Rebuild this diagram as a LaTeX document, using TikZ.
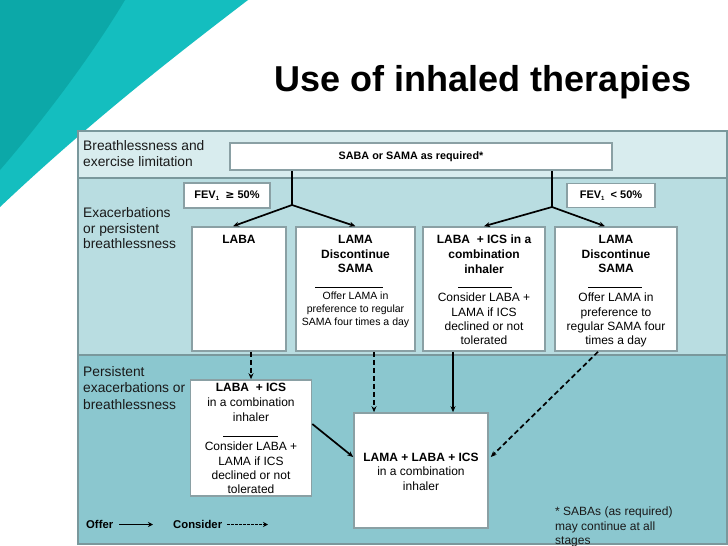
\documentclass[tikz,border=0pt]{standalone}
\usepackage{fontspec}
\setmainfont{Liberation Sans}
\usetikzlibrary{arrows.meta}
\definecolor{tealA}{RGB}{20,190,191}
\definecolor{tealB}{RGB}{12,168,168}
\definecolor{bandA}{RGB}{216,236,238}
\definecolor{bandB}{RGB}{185,221,225}
\definecolor{bandC}{RGB}{139,199,207}
\definecolor{bord}{RGB}{122,152,156}
\definecolor{boxb}{RGB}{138,160,164}
\definecolor{ink}{RGB}{25,25,25}
\tikzset{
  band/.style={draw=bord, line width=1.8pt},
  box/.style={draw=boxb, fill=white, line width=1.6pt, inner sep=0pt},
  lbl/.style={anchor=north west, align=left, inner sep=0pt, text=ink, font=\fontsize{13.8}{16.6}\selectfont},
  hd/.style={anchor=north, align=center, inner sep=0pt, font=\bfseries\fontsize{12}{14.7}\selectfont},
  bd/.style={anchor=north, align=center, inner sep=0pt, font=\fontsize{12}{14.3}\selectfont},
  sm/.style={anchor=north, align=center, inner sep=0pt, font=\fontsize{10.5}{12.8}\selectfont},
  rl/.style={line width=0.8pt},
  offer/.style={draw, line width=1.7pt, -{Stealth[length=6pt,width=5pt]}},
  consider/.style={offer, dash pattern=on 5pt off 3pt},
}
\newcommand{\fevsub}{{\fontsize{6}{6}\selectfont\raisebox{-1.5pt}{1}}}
\begin{document}
\begin{tikzpicture}[x=1pt,y=-1pt]
\useasboundingbox (0,0) rectangle (728,546);
\fill[white] (0,0) rectangle (728,546);
% teal corner
\fill[tealA] (0,0) -- (248,0) .. controls (180,52) and (92,120) .. (0,207) -- cycle;
\fill[tealB] (0,0) -- (125,0) .. controls (92,55) and (45,118) .. (0,170) -- cycle;
% title
\node[anchor=base, inner sep=0pt, font=\bfseries\fontsize{36}{40}\selectfont] (title) at (483,91) {Use of inhaled therapies};
% bands
\draw[band, fill=bandA] (78,131) rectangle (727,178);
\draw[band, fill=bandB] (78,178) rectangle (727,355);
\draw[band, fill=bandC] (78,355) rectangle (727,544);
% band labels
\node[lbl] (l1) at (83,140) {Breathlessness and\\exercise limitation};
\node[lbl, font=\fontsize{13.8}{15.8}\selectfont] (l2) at (83,207) {Exacerbations\\or persistent\\breathlessness};
\node[lbl] (l3) at (83,366) {Persistent\\exacerbations or\\breathlessness};
% boxes
\node[box, minimum width=382pt, minimum height=27pt, font=\bfseries\fontsize{10.8}{13}\selectfont] (saba) at (421,156.5) {SABA or SAMA as required*\hspace*{20pt}};
\node[box, minimum width=86pt, minimum height=25pt, font=\bfseries\fontsize{11}{13}\selectfont] (fevL) at (227,195.5) {FEV\fevsub\ \ {\fontspec{DejaVu Sans}\fontsize{11}{12}\selectfont\bfseries ≥} 50\%};
\node[box, minimum width=88pt, minimum height=24pt, font=\bfseries\fontsize{11}{13}\selectfont] (fevR) at (611,195.5) {FEV\fevsub\ \ < 50\%};
\node[box, minimum width=94pt, minimum height=124pt] (laba) at (239,289) {};
\node[box, minimum width=119pt, minimum height=124pt] (lamaL) at (355.5,289) {};
\node[box, minimum width=122pt, minimum height=124pt] (labaics) at (484,289) {};
\node[box, minimum width=122pt, minimum height=124pt] (lamaR) at (616,289) {};
\node[box, minimum width=121pt, minimum height=116pt] (labaicsB) at (251,438) {};
\node[box, minimum width=134pt, minimum height=115pt] (triple) at (421,470.5) {};
% box texts row 2
\node[hd] (labaT) at (239,235) {LABA};
\node[hd] (lamaLT) at (355.5,235) {LAMA\\Discontinue\\SAMA};
\draw[rl] (315,287) -- (383,287);
\node[sm] (lamaLS) at (355.5,292) {Offer LAMA in\\preference to regular\\SAMA four times a day};
\node[hd] (labaicsT) at (484,235) {LABA\ \ + ICS in a\\combination\\inhaler};
\draw[rl] (458,287) -- (512,287);
\node[bd] (labaicsS) at (484,293) {Consider LABA +\\LAMA if ICS\\declined or not\\tolerated};
\node[hd] (lamaRT) at (616,235) {LAMA\\Discontinue\\SAMA};
\draw[rl] (588,287) -- (642,287);
\node[bd] (lamaRS) at (616,293) {Offer LAMA in\\preference to\\regular SAMA four\\times a day};
% box texts row 3
\node[hd] (labaicsBT) at (251,383) {LABA\ \ + ICS};
\node[bd] (labaicsBM) at (251,398) {in a combination\\inhaler};
\draw[rl] (223,436) -- (278,436);
\node[bd] (labaicsBS) at (251,442) {Consider LABA +\\LAMA if ICS\\declined or not\\tolerated};
\node[hd] (tripleT) at (421,453) {LAMA + LABA + ICS};
\node[bd] (tripleS) at (421,467) {in a combination\\inhaler};
% connectors
\coordinate (jL) at (292,205);
\coordinate (jR) at (552,207);
\draw[line width=1.7pt] (jL |- saba.south) -- (jL);
\draw[line width=1.7pt] (jR |- saba.south) -- (jR);
\draw[offer] (jL) -- ([xshift=-6pt]laba.north);
\draw[offer] (jL) -- (lamaL.north);
\draw[offer] (jR) -- (labaics.north);
\draw[offer] (jR) -- ([xshift=-11pt]lamaR.north);
\draw[consider] (labaicsB.north |- laba.south) -- (labaicsB.north);
\draw[consider] ([xshift=18.5pt]lamaL.south) -- ([xshift=18.5pt]lamaL.south |- triple.north);
\draw[offer] ([xshift=-31pt]labaics.south) -- ([xshift=-31pt]labaics.south |- triple.north);
\draw[consider] ([xshift=-18pt]lamaR.south) -- ([xshift=2pt,yshift=13.5pt]triple.east);
\draw[offer] ([yshift=14pt]labaicsB.east) -- ([yshift=13.5pt]triple.west);
% legend
\node[anchor=base west, inner sep=0pt, font=\bfseries\fontsize{11.3}{13}\selectfont] (offerL) at (86,528) {Offer};
\node[anchor=base west, inner sep=0pt, font=\bfseries\fontsize{11.3}{13}\selectfont] (considerL) at (173,528) {Consider};
\coordinate (oa) at (119,524.5);
\coordinate (ob) at (153,524.5);
\coordinate (ca) at (227,524.5);
\coordinate (cb) at (268,524.5);
\draw[line width=0.8pt, -{Stealth[length=5pt,width=5pt]}] (oa) -- (ob);
\draw[line width=0.8pt, dash pattern=on 2.5pt off 1.5pt, -{Stealth[length=5pt,width=5pt]}] (ca) -- (cb);
% footnote
\node[anchor=north west, align=left, inner sep=0pt, text=ink, font=\fontsize{12}{14.5}\selectfont] (foot) at (555,507) {* SABAs (as required)\\may continue at all\\stages};
\end{tikzpicture}
\end{document}
